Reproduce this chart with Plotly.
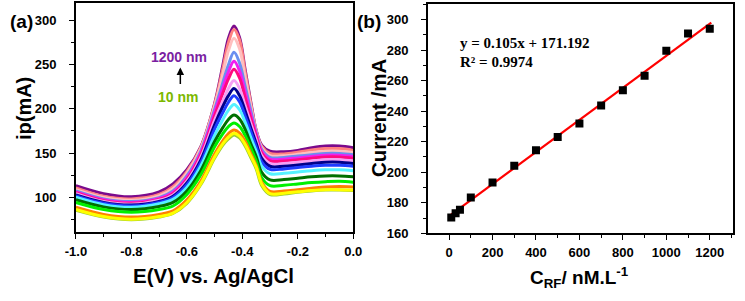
import plotly.graph_objects as go

W, H = 745, 301

# ---------------- Panel (a) data: DPV curves ----------------
potential = [-1.0, -0.9, -0.8, -0.7, -0.65, -0.6, -0.55, -0.5, -0.47, -0.45, -0.43, -0.41,
             -0.39, -0.37, -0.35, -0.33, -0.3, -0.25, -0.2, -0.15, -0.1, -0.05, 0.0]

curve_labels = ["10", "30", "50", "100", "200", "300", "400", "500", "600", "700",
                "800", "900", "1000", "1100", "1200"]
curve_colors = ["#9ACD32", "#FFFF00", "#FF8000", "#00F000", "#007000", "#55F2FF", "#1E3CFF",
                "#00008B", "#F5A0F5", "#FF0A80", "#F020F0", "#6A8FF0", "#FFBFBF", "#FF7F7F",
                "#7B0A8C"]

i_10 = [85, 77.5, 74.5, 77.5, 81.5, 93, 114, 144, 159, 166, 170.5, 167, 158, 145, 132, 113, 103, 103.5, 105.5, 107, 108, 108, 107.5]
i_30 = [86, 78, 75, 78, 82, 94, 115, 145.5, 160.5, 168, 172.5, 169, 160, 147, 134, 115, 104, 104.5, 106, 107.5, 108.5, 108.5, 108]
i_50 = [88.5, 80.5, 77.5, 80.5, 84.5, 97, 118, 149, 164, 172, 176, 172.5, 163.5, 150, 136, 117, 106.5, 107, 108.5, 110, 111.5, 112, 111.5]
i_100 = [94, 86, 83, 86, 90, 103, 125, 157, 172, 180, 184, 180, 170, 156, 141, 122, 113, 113.5, 115, 116.5, 117.5, 118, 117]
i_200 = [97, 89, 86, 89.5, 94, 107, 130, 163, 179, 188, 193, 188.5, 177, 161, 146, 128, 119.5, 120, 121.5, 123, 124, 124, 123]
i_300 = [100, 91.5, 88.5, 92.5, 97.5, 111, 135, 170, 188, 198.5, 205, 199, 185, 168, 152, 135, 126.5, 127, 128.5, 130, 131, 131, 130]
i_400 = [101.5, 93, 90, 94, 99.5, 114, 139, 177, 196, 207.5, 215, 208, 192, 175, 157, 140, 131.5, 132, 133.5, 135, 136, 136, 135]
i_500 = [102.5, 94, 91, 95, 101, 116, 142, 182, 203, 215, 223, 215, 198, 179, 161, 144, 135, 135, 136.5, 138, 139.5, 139.5, 138]
i_600 = [104, 95, 92, 96.5, 102.5, 118, 145, 187, 209, 223, 232, 223, 204, 184, 165, 147, 138, 138, 139.5, 141, 142.5, 142.5, 141]
i_700 = [105, 96, 93, 97.5, 104, 120, 148, 192, 218, 234, 245, 235, 213, 190, 169, 150, 141, 141, 142.5, 144, 145.5, 145.5, 144]
i_800 = [106, 97, 94, 98.5, 105.5, 122, 150, 196, 224, 242, 254, 243, 219, 194, 171, 152, 143, 143, 144.5, 146, 147.5, 147.5, 146]
i_900 = [107, 98, 95, 99.5, 107, 124, 152, 199, 230, 250, 264, 252, 226, 199, 173, 154, 145, 145, 146.5, 148, 149.5, 149.5, 148]
i_1000 = [108.5, 99.5, 96.5, 101.5, 109.5, 127, 155, 203, 240, 266, 280, 268, 236, 204, 174, 156, 147, 147, 148.5, 150.5, 152, 152, 150.5]
i_1100 = [110.5, 101, 98, 103, 112, 129, 156, 205, 246, 275, 290, 278, 242, 207, 175, 157.5, 149.5, 149, 151, 153.5, 155, 155, 153]
i_1200 = [113, 104, 100.5, 106, 115, 131, 157, 206, 250, 280, 294, 281, 245, 209, 176, 159, 152, 151.5, 153, 156, 158, 158, 156]

curves = [i_10, i_30, i_50, i_100, i_200, i_300, i_400, i_500, i_600, i_700,
          i_800, i_900, i_1000, i_1100, i_1200]

x1_tickvals = [-1.0, -0.8, -0.6, -0.4, -0.2, 0.0]
x1_ticktext = ["-1.0", "-0.8", "-0.6", "-0.4", "-0.2", "0.0"]

# ---------------- Panel (b) data: calibration ----------------
conc = [10, 30, 50, 100, 200, 300, 400, 500, 600, 700, 800, 900, 1000, 1100, 1200]
peak_current = [170.3, 173.2, 175.4, 183.4, 193.2, 204.3, 214.3, 223.0, 231.9, 243.6,
                253.6, 263.2, 279.5, 290.8, 294.0]
fit_slope = 0.105
fit_intercept = 171.192
fit_x = [8, 1207]
fit_y = [fit_slope * x + fit_intercept for x in fit_x]

fig = go.Figure()

# draw from high to low; yellowgreen (10) before yellow (30)
draw_order = [14, 13, 12, 11, 10, 9, 8, 7, 6, 5, 4, 3, 2, 0, 1]
for k in draw_order:
    fig.add_trace(go.Scatter(
        x=potential, y=curves[k], mode="lines",
        line=dict(color=curve_colors[k], width=3, shape="spline", smoothing=1.0),
        xaxis="x", yaxis="y", showlegend=False, name=curve_labels[k] + " nm"))

fig.add_trace(go.Scatter(
    x=fit_x, y=fit_y, mode="lines", line=dict(color="#FF0000", width=2.2),
    xaxis="x2", yaxis="y2", showlegend=False))
fig.add_trace(go.Scatter(
    x=conc, y=peak_current, mode="markers",
    marker=dict(symbol="square", size=8, color="#000000"),
    xaxis="x2", yaxis="y2", showlegend=False))


def px(x):
    return x / W


def py(y):
    return 1 - y / H


tickfont = dict(family="Liberation Sans", size=13, color="#000", weight="bold")
axis_common = dict(showline=True, linecolor="#000", linewidth=1.5, mirror=True,
                   ticks="outside", ticklen=5, tickwidth=1.3, tickcolor="#000",
                   showgrid=False, zeroline=False, tickfont=tickfont)

fig.update_layout(
    width=W, height=H, margin=dict(l=0, r=0, t=0, b=0),
    paper_bgcolor="white", plot_bgcolor="white",
    xaxis=dict(domain=[px(66.7), px(351.7)], range=[-1.0, 0.0], anchor="y",
               tickvals=x1_tickvals, ticktext=x1_ticktext,
               minor=dict(tickvals=[-0.9, -0.7, -0.5, -0.3, -0.1], ticks="outside",
                          ticklen=3, tickcolor="#000"),
               ticklabelstandoff=1, **axis_common),
    yaxis=dict(domain=[py(238), py(3)], range=[60, 320], anchor="x",
               tick0=0, dtick=50,
               minor=dict(dtick=25, ticks="outside", ticklen=3, tickcolor="#000"),
               ticklabelstandoff=10, **axis_common),
    xaxis2=dict(domain=[px(428.3), px(741.7)], range=[-98, 1306], anchor="y2",
                tick0=0, dtick=200,
                minor=dict(dtick=100, ticks="outside", ticklen=3, tickcolor="#000"),
                ticklabelstandoff=1, **axis_common),
    yaxis2=dict(domain=[py(239), py(4)], range=[159.9, 310.2], anchor="x2",
                tick0=0, dtick=20,
                minor=dict(dtick=10, ticks="outside", ticklen=3, tickcolor="#000"),
                ticklabelstandoff=10, **axis_common),
)

bold = "Liberation Sans"
ann = []
ann.append(dict(text="<b>(a)</b>", x=px(-3), y=py(22), xanchor="left", yanchor="middle",
                font=dict(family=bold, size=19, color="#000")))
ann.append(dict(text="<b>(b)</b>", x=px(354), y=py(22), xanchor="left", yanchor="middle",
                font=dict(family=bold, size=19, color="#000")))
ann.append(dict(text="<b>ip(mA)</b>", x=px(14), y=py(111), textangle=-90,
                xanchor="center", yanchor="middle",
                font=dict(family=bold, size=20, color="#000")))
ann.append(dict(text="<b>E(V) vs. Ag/AgCl</b>", x=px(208), y=py(282),
                xanchor="center", yanchor="middle",
                font=dict(family=bold, size=20.5, color="#000")))
ann.append(dict(text="<b>Current /mA</b>", x=px(377), y=py(120), textangle=-90,
                xanchor="center", yanchor="middle",
                font=dict(family=bold, size=20.5, color="#000")))
ann.append(dict(text="<b>C<sub>RF</sub>/ nM.L<sup>-1</sup></b>", x=px(584), y=py(284),
                xanchor="center", yanchor="middle",
                font=dict(family=bold, size=19, color="#000")))
ann.append(dict(text="<b>1200 nm</b>", x=px(172.5), y=py(58), xanchor="center", yanchor="middle",
                font=dict(family=bold, size=14, color="#7B1FA2")))
ann.append(dict(text="<b>10 nm</b>", x=px(172), y=py(99), xanchor="center", yanchor="middle",
                font=dict(family=bold, size=14, color="#7CB800")))
ann.append(dict(text="", x=px(174), y=py(69), ax=0, ay=18,
                showarrow=True, arrowhead=2, arrowsize=1, arrowwidth=1.5, arrowcolor="#000"))
ann.append(dict(text="<b>y = 0.105x + 171.192</b>", x=px(459), y=py(44), xanchor="left",
                yanchor="middle", font=dict(family="Liberation Serif", size=15, color="#000")))
ann.append(dict(text="<b>R² = 0.9974</b>", x=px(459), y=py(63), xanchor="left",
                yanchor="middle", font=dict(family="Liberation Serif", size=15, color="#000")))
for a in ann:
    a.setdefault("xref", "paper")
    a.setdefault("yref", "paper")
    a.setdefault("showarrow", False)
fig.update_layout(annotations=ann)

fig.write_html("out.html")
